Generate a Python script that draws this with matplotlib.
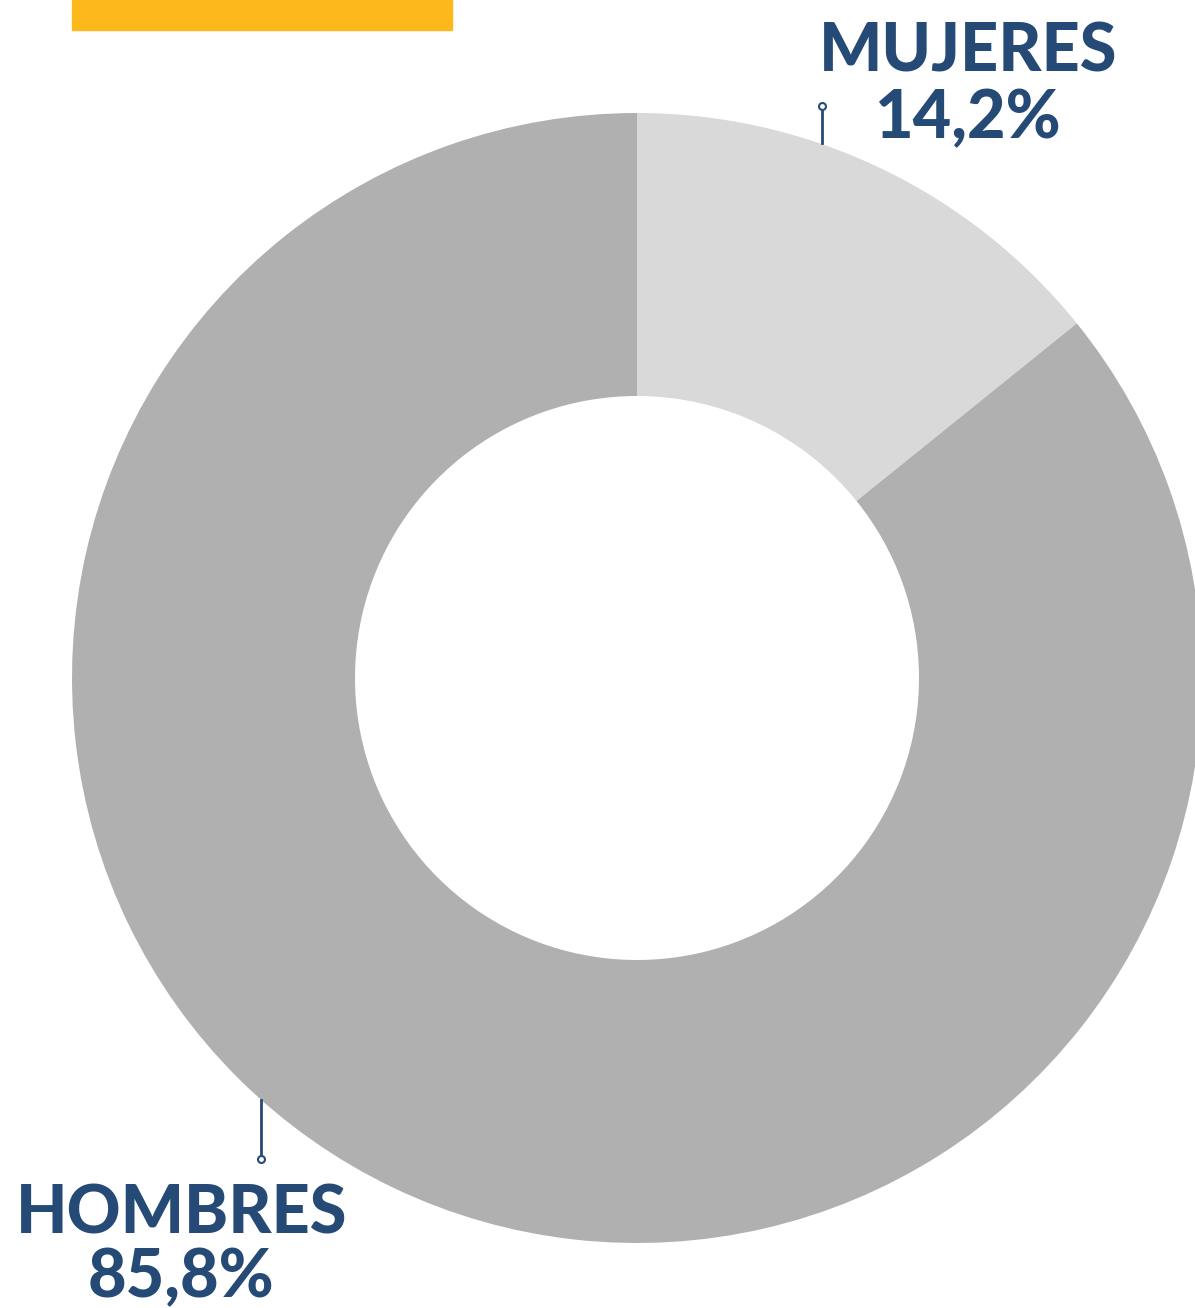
import matplotlib.pyplot as plt
from matplotlib.patches import Rectangle

# Data
labels = ['MUJERES', 'HOMBRES']
shares = [14.2, 85.8]
slice_colors = ['#D9D9D9', '#B0B0B0']
text_color = '#254A75'
accent = '#FDB91C'

W, H = 1195, 1308
fig = plt.figure(figsize=(W / 100, H / 100), dpi=100)
ax = fig.add_axes([0, 0, 1, 1])
ax.set_xlim(0, W)
ax.set_ylim(0, H)
ax.set_aspect('equal')
ax.axis('off')

# donut
cx, cy = 637, H - 678
ax.pie(shares, colors=slice_colors, startangle=90, counterclock=False,
       center=(cx, cy), radius=565, frame=True,
       wedgeprops=dict(width=283, linewidth=0))
ax.set_xlim(0, W)
ax.set_ylim(0, H)
ax.axis('off')

# yellow bar at top
ax.add_patch(Rectangle((72, H - 30), 380, 30, color=accent, clip_on=False))

font = dict(family=['Lato', 'DejaVu Sans'], weight='black', color=text_color,
            ha='center', va='baseline', fontsize=48)

# labels
pct = [f'{v:.1f}%'.replace('.', ',') for v in shares]
ax.text(968, H - 72, labels[0], **font)
ax.text(967, H - 138, pct[0], **font)
ax.text(182, H - 1234, labels[1], **font)
ax.text(181, H - 1297, pct[1], **font)

# leader lines
ax.plot([822, 822], [H - 110, H - 143], color=text_color, lw=2)
ax.plot([822], [H - 106], 'o', ms=5, mfc='white', mec=text_color, mew=1.5)
ax.plot([261, 261], [H - 1100, H - 1155], color=text_color, lw=2)
ax.plot([261], [H - 1159], 'o', ms=5, mfc='white', mec=text_color, mew=1.5)

fig.savefig('out.png', dpi=100, facecolor='white')
